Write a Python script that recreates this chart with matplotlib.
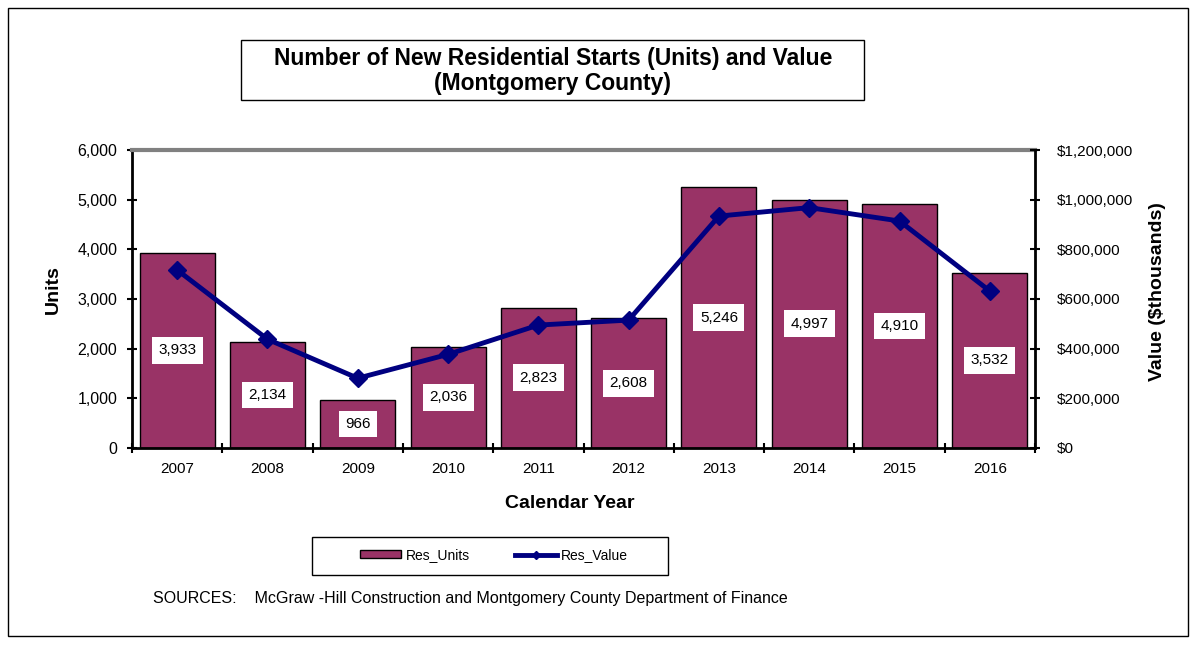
import matplotlib.pyplot as plt
from matplotlib.patches import Rectangle
from matplotlib.ticker import FuncFormatter, FixedLocator
import numpy as np

plt.rcParams['font.family'] = ['Liberation Sans', 'DejaVu Sans']

years = ['2007', '2008', '2009', '2010', '2011', '2012', '2013', '2014', '2015', '2016']
res_units = [3933, 2134, 966, 2036, 2823, 2608, 5246, 4997, 4910, 3532]
res_value = [717000, 438000, 281000, 377000, 495000, 515000, 934000, 968000, 914000, 632000]

W, H = 1196, 648
bar_color = '#993366'
line_color = '#000080'

fig = plt.figure(figsize=(W / 100, H / 100), dpi=100)
# outer frame
fig.patches.append(Rectangle((8 / W, 1 - 636 / H), 1180 / W, 628 / H,
                             transform=fig.transFigure, fill=False, edgecolor='black', lw=1))

ax = fig.add_axes([132 / W, 1 - 448 / H, 903 / W, 298 / H])
x = np.arange(len(years))
ax.bar(x, res_units, width=0.83, color=bar_color, edgecolor='black', linewidth=1, zorder=2)
ax.set_xlim(-0.5, len(years) - 0.5)
ax.set_ylim(0, 6000)
ax.set_yticks(range(0, 6001, 1000))
ax.yaxis.set_major_formatter(FuncFormatter(lambda v, p: '{:,.0f}'.format(v)))
ax.set_xticks(x)
ax.set_xticklabels(years)
ax.xaxis.set_minor_locator(FixedLocator(np.arange(-0.5, len(years), 1)))
ax.tick_params(axis='x', which='major', length=0, labelsize=11, pad=10)
ax.tick_params(axis='x', which='minor', length=7, direction='inout', width=1.5)
ax.tick_params(axis='y', length=7, direction='inout', width=1.5, labelsize=11.5, pad=7)
ax.spines['top'].set_color('#808080')
ax.spines['top'].set_linewidth(3)
ax.spines['right'].set_visible(False)
ax.spines['left'].set_linewidth(2)
ax.spines['bottom'].set_linewidth(2)

# data labels in the middle of the bars
for xi, v in zip(x, res_units):
    ax.text(xi, v / 2, '{:,}'.format(v), ha='center', va='center', fontsize=11, zorder=5,
            bbox=dict(boxstyle='square,pad=0.42', facecolor='white', edgecolor='none'))

ax2 = ax.twinx()
ax2.plot(x, res_value, color=line_color, lw=3.5, marker='D', markersize=9, zorder=4)
ax2.set_ylim(0, 1200000)
ax2.set_yticks(range(0, 1200001, 200000))
ax2.yaxis.set_major_formatter(FuncFormatter(lambda v, p: '${:,.0f}'.format(v)))
ax2.tick_params(axis='y', length=7, direction='inout', width=1.5, labelsize=11, pad=12)
ax2.spines['right'].set_linewidth(2)
ax2.spines['top'].set_visible(False)
ax2.spines['left'].set_visible(False)
ax2.spines['bottom'].set_visible(False)

# axis titles
fig.text(53 / W, 1 - 290 / H, 'Units', rotation=90, ha='center', va='center',
         fontsize=14, fontweight='bold')
fig.text(1158 / W, 1 - 292 / H, 'Value ($thousands)', rotation=90, ha='center', va='center',
         fontsize=14, fontweight='bold')
fig.text(570 / W, 1 - 503 / H, 'Calendar Year', ha='center', va='center',
         fontsize=14, fontweight='bold')

# chart title in a box
fig.patches.append(Rectangle((241 / W, 1 - 100 / H), 623 / W, 60 / H,
                             transform=fig.transFigure, facecolor='white', edgecolor='black', lw=1))
fig.text(553 / W, 1 - 71 / H, 'Number of New Residential Starts (Units) and Value\n(Montgomery County)',
         ha='center', va='center', fontsize=16.5, fontweight='bold', linespacing=1.15)

# legend
fig.patches.append(Rectangle((312 / W, 1 - 575 / H), 356 / W, 38 / H,
                             transform=fig.transFigure, fill=False, edgecolor='black', lw=1))
handles = [Rectangle((0, 0), 1, 1, facecolor=bar_color, edgecolor='black'),
           plt.Line2D([], [], color=line_color, lw=3.5, marker='D', markersize=4)]
fig.legend(handles, ['Res_Units', 'Res_Value'], loc='center', bbox_to_anchor=(494 / W, 1 - 555 / H),
           ncol=2, frameon=False, fontsize=10, columnspacing=3.3, handlelength=3,
           handleheight=0.5, handletextpad=0.3)

fig.text(153 / W, 1 - 598 / H, 'SOURCES:    McGraw -Hill Construction and Montgomery County Department of Finance',
         ha='left', va='center', fontsize=11.5)

fig.savefig('out.png', dpi=100)
